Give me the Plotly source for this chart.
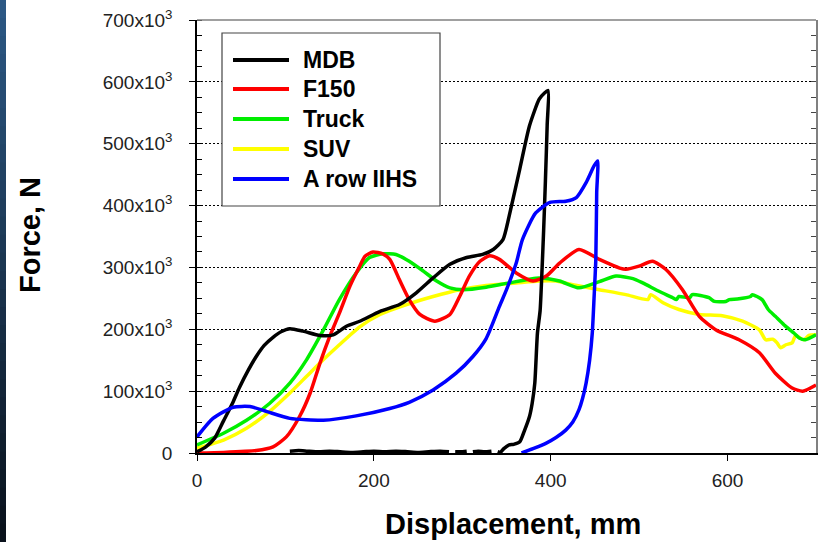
import plotly.graph_objects as go

# ---------------- data (force in kN, i.e. x10^3 N) ----------------
mdb_x = [0, 10, 20, 30, 40, 48, 58, 67, 76, 86, 95, 105, 120, 139, 154, 169, 184, 207, 229, 248,
         267, 286, 305, 323, 335, 346, 353, 365, 376, 387, 393, 397,
         396, 394, 392, 390, 388, 385, 382, 379, 376, 370, 365, 358, 353, 347, 343,
         340, 337, 333, 325, 318, 312, 308, 305, 298, 292, 289, 285, 275, 262, 250, 238, 225,
         212, 200, 188, 175, 162, 150, 138, 125, 115, 105]
mdb_y = [2, 10, 24, 52, 80, 106, 134, 156, 174, 187, 196, 201, 197, 190, 191, 205, 213, 229, 240, 259,
         283, 305, 316, 321, 329, 345, 383, 459, 529, 572, 582, 586,
         530, 440, 360, 290, 230, 194, 113, 80, 59, 35, 18, 14, 13, 7, 1,
         2, None, 3, 2, 3, 2, None, 3, 2, 2, None, 2, 3, 2, 1, 2, 3,
         2, 3, 2, 1, 2, 3, 2, 3, 4, 3]

f150_x = [0, 30, 67, 86, 101, 116, 128, 139, 150, 161, 173, 184, 190, 199, 210, 218, 229, 240, 252,
          269, 286, 297, 308, 320, 331, 342, 361, 380, 395, 410, 432, 455, 478, 485, 500, 515, 530,
          549, 568, 587, 613, 636, 654, 673, 685, 700]
f150_y = [0, 1, 4, 10, 26, 59, 97, 145, 188, 226, 270, 302, 318, 325, 322, 313, 280, 248, 224,
          213, 224, 253, 286, 310, 319, 313, 291, 278, 286, 307, 329, 313, 299, 297, 302, 310, 297,
          264, 221, 199, 183, 162, 129, 105, 100, 110]

truck_x = [0, 30, 56, 82, 105, 124, 143, 161, 180, 195, 210, 225, 240, 256, 271, 286, 301, 327,
           353, 387, 410, 432, 455, 474, 493, 504, 523, 538, 542, 545, 557, 560, 579, 585, 598,
           602, 611, 626, 628, 639, 646, 654, 664, 675, 681, 688, 700]
truck_y = [13, 32, 53, 80, 113, 151, 199, 248, 291, 316, 322, 321, 310, 294, 278, 267, 264, 268,
           275, 283, 278, 267, 277, 286, 282, 275, 261, 251, 248, 253, 251, 256, 251, 245, 245,
           248, 249, 253, 256, 248, 232, 221, 207, 194, 186, 183, 191]

suv_x = [0, 30, 56, 82, 105, 124, 143, 161, 184, 207, 237, 267, 297, 327, 361, 387, 406, 425,
         455, 485, 510, 513, 527, 545, 568, 594, 617, 636, 643, 651, 656, 660, 666, 673, 677,
         686, 692, 700]
suv_y = [8, 21, 40, 67, 97, 124, 151, 175, 204, 224, 240, 253, 264, 271, 275, 278, 278, 272,
         264, 256, 248, 256, 243, 232, 224, 222, 213, 199, 183, 184, 178, 170, 175, 178, 190,
         183, 190, 191]

arow_x = [0, 18, 41, 60, 79, 105, 143, 180, 218, 240, 267, 293, 312, 327, 342, 350, 361, 368,
          383, 399, 417, 429, 440, 449, 453,
          452, 451, 449, 447, 444, 440, 436, 432, 425, 417, 406, 395, 380, 367]
arow_y = [26, 56, 74, 75, 67, 56, 53, 60, 72, 82, 102, 129, 156, 185, 237, 264, 307, 345,
          388, 405, 407, 413, 437, 464, 472,
          421, 313, 250, 194, 150, 113, 88, 70, 50, 37, 25, 16, 7, 0]

series_names = ["MDB", "F150", "Truck", "SUV", "A row IIHS"]
series_colors = ["#000000", "#ff0000", "#00ee00", "#ffff00", "#0000ff"]

y_tickvals_k = [0, 100, 200, 300, 400, 500, 600, 700]
y_ticktext = ["0"] + [f"{v}x10<sup>3</sup>" for v in y_tickvals_k[1:]]
x_tickvals = [0, 200, 400, 600]

# ---------------- figure ----------------
W, H = 820, 542
ML, MR, MT, MB = 197, 4, 20, 89
PW, PH = W - ML - MR, H - MT - MB


def px(xp):
    return (xp - ML) / PW


def py(yp):
    return (H - MB - yp) / PH


FONT = "Liberation Sans, Arial, sans-serif"

fig = go.Figure()
datasets = [(mdb_x, mdb_y), (f150_x, f150_y), (truck_x, truck_y), (suv_x, suv_y), (arow_x, arow_y)]
draw_order = [3, 2, 1, 0, 4]
for i in draw_order:
    xs, ys = datasets[i]
    fig.add_trace(go.Scatter(
        x=xs, y=[None if v is None else v * 1000 for v in ys],
        mode="lines", name=series_names[i],
        line=dict(color=series_colors[i], width=3.5, shape="spline", smoothing=0.6),
        connectgaps=False, showlegend=False))

# empty trace so the right-hand mirror axis is drawn
fig.add_trace(go.Scatter(x=[], y=[], yaxis="y2", showlegend=False, hoverinfo="skip"))

fig.update_layout(
    width=W, height=H,
    margin=dict(l=ML, r=MR, t=MT, b=MB, autoexpand=False),
    paper_bgcolor="white", plot_bgcolor="white",
    font=dict(family=FONT, color="#111"),
    xaxis=dict(range=[0, 700], tickvals=x_tickvals, ticks="outside", ticklen=6,
               tickcolor="#000", showline=True, linecolor="#000", linewidth=1.5,
               showgrid=False, zeroline=False, tickfont=dict(size=19, color="#222"),
               ticklabelstandoff=3, automargin=False),
    yaxis=dict(range=[0, 700000], tickvals=[v * 1000 for v in y_tickvals_k], ticktext=y_ticktext,
               ticks="outside", ticklen=6, tickcolor="#000", showline=True, linecolor="#000",
               linewidth=1.5, showgrid=True, gridcolor="#000", gridwidth=1,
               griddash="1.5px,2.5px", zeroline=False, automargin=False,
               tickfont=dict(size=19, color="#222"), ticklabelstandoff=13,
               minor=dict(ticks="inside", ticklen=5, dtick=25000, tick0=0,
                          tickcolor="#000", showgrid=False)),
    yaxis2=dict(range=[0, 700000], overlaying="y", side="right", showgrid=False,
                showticklabels=False, ticks="inside", ticklen=5, dtick=25000, tick0=0,
                tickcolor="#444", showline=True, linecolor="#808080", linewidth=1.5,
                zeroline=False, automargin=False),
)

shapes = []
# top border
shapes.append(dict(type="line", xref="paper", yref="paper", x0=0, x1=1, y0=1, y1=1,
                   line=dict(color="#808080", width=1.5)))
# left dark decorative strip (vertical gradient)
n = 30
top_c, bot_c = (44, 88, 132), (10, 18, 28)
for k in range(n):
    t = k / (n - 1)
    c = tuple(int(top_c[j] + (bot_c[j] - top_c[j]) * t) for j in range(3))
    y0p = k * H / n
    y1p = (k + 1) * H / n + 1
    shapes.append(dict(type="rect", xref="paper", yref="paper",
                       x0=px(0), x1=px(6), y0=py(y1p), y1=py(y0p),
                       fillcolor=f"rgb{c}", line=dict(width=0), layer="above"))

# legend box
shapes.append(dict(type="rect", xref="paper", yref="paper", x0=px(222), x1=px(440),
                   y0=py(206), y1=py(33), fillcolor="white",
                   line=dict(color="#444", width=1.2), layer="above"))
annotations = []
leg_rows = [60, 89, 119, 149, 179]
for i, name in enumerate(series_names):
    yy = py(leg_rows[i])
    shapes.append(dict(type="line", xref="paper", yref="paper", x0=px(233), x1=px(289),
                       y0=yy, y1=yy, line=dict(color=series_colors[i], width=4), layer="above"))
    annotations.append(dict(xref="paper", yref="paper", x=px(301), y=yy, xanchor="left",
                            yanchor="middle", showarrow=False, text=name,
                            font=dict(family=FONT, size=23, color="#000", weight="bold")))

# axis titles
annotations.append(dict(xref="paper", yref="paper", x=px(30), y=py(235), xanchor="center",
                        yanchor="middle", showarrow=False, text="Force, N", textangle=-90,
                        font=dict(family=FONT, size=29, color="#000", weight="bold")))
annotations.append(dict(xref="paper", yref="paper", x=px(513), y=py(524), xanchor="center",
                        yanchor="middle", showarrow=False, text="Displacement, mm",
                        font=dict(family=FONT, size=29, color="#000", weight="bold")))

fig.update_layout(shapes=shapes, annotations=annotations)
fig.write_html("out.html",
               config={"displayModeBar": False},
               post_script="document.body.style.margin='0px';document.body.style.overflow='hidden';")
